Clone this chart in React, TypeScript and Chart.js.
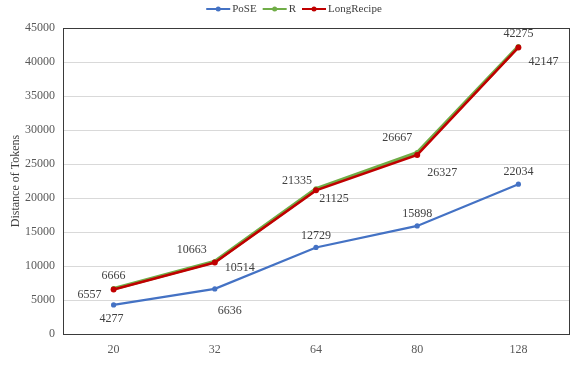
import React, { useEffect, useRef } from "react";
import { Chart, registerables } from "chart.js";

Chart.register(...registerables);

const categories = ["20", "32", "64", "80", "128"];
const poseValues = [4277, 6636, 12729, 15898, 22034];
const rValues = [6666, 10663, 21335, 26667, 42275];
const longRecipeValues = [6557, 10514, 21125, 26327, 42147];
const seriesNames = ["PoSE", "R", "LongRecipe"];
const seriesColors = ["#4472C4", "#70AD47", "#C00000"];

// label offsets (dx, dy) relative to each point, per dataset
const labelOffsets: number[][][] = [
  [[-2, 14], [15, 22], [0, -12], [0, -12], [0, -12]],
  [[0, -13], [-23, -12], [-19, -8], [-20, -15], [0, -13]],
  [[-24, 5], [25, 5], [18, 8], [25, 18], [25, 14]],
];

const SERIF = "'Liberation Serif', 'DejaVu Serif', serif";

const labelPlugin = {
  id: "pointLabels",
  afterDatasetsDraw(chart: any) {
    const ctx = chart.ctx;
    ctx.save();
    ctx.font = `12px ${SERIF}`;
    ctx.fillStyle = "#404040";
    ctx.textAlign = "center";
    ctx.textBaseline = "middle";
    chart.data.datasets.forEach((ds: any, di: number) => {
      const meta = chart.getDatasetMeta(di);
      meta.data.forEach((pt: any, i: number) => {
        const [dx, dy] = labelOffsets[di][i];
        ctx.fillText(String(ds.data[i]), pt.x + dx, pt.y + dy);
      });
    });
    ctx.restore();
  },
};

const frameLegendPlugin = {
  id: "frameLegend",
  afterDraw(chart: any) {
    const ctx = chart.ctx;
    const a = chart.chartArea;
    ctx.save();
    ctx.strokeStyle = "#3a3a3a";
    ctx.lineWidth = 1;
    ctx.strokeRect(Math.round(a.left) + 0.5, Math.round(a.top) + 0.5, Math.round(a.right - a.left), Math.round(a.bottom - a.top));
    // legend
    ctx.font = `11px ${SERIF}`;
    ctx.textBaseline = "middle";
    ctx.textAlign = "left";
    const lineW = 24;
    const gapText = 2;
    const gapItem = 6;
    const widths = seriesNames.map((n) => lineW + gapText + ctx.measureText(n).width);
    const total = widths.reduce((s, w) => s + w, 0) + gapItem * (seriesNames.length - 1);
    let x = 294 - total / 2;
    const y = 9;
    seriesNames.forEach((n, i) => {
      ctx.strokeStyle = seriesColors[i];
      ctx.fillStyle = seriesColors[i];
      ctx.lineWidth = 2;
      ctx.beginPath();
      ctx.moveTo(x, y);
      ctx.lineTo(x + lineW, y);
      ctx.stroke();
      ctx.beginPath();
      ctx.arc(x + lineW / 2, y, 2.5, 0, Math.PI * 2);
      ctx.fill();
      ctx.fillStyle = "#404040";
      ctx.fillText(n, x + lineW + gapText, y + 0.5);
      x += widths[i] + gapItem;
    });
    ctx.restore();
  },
};

export default function App() {
  const ref = useRef<HTMLCanvasElement | null>(null);
  useEffect(() => {
    document.body.style.margin = "0";
    const canvas = ref.current;
    if (!canvas) return;
    const chart = new Chart(canvas, {
      type: "line",
      data: {
        labels: categories,
        datasets: [
          {
            label: seriesNames[0],
            data: poseValues,
            borderColor: seriesColors[0],
            backgroundColor: seriesColors[0],
            borderWidth: 2.2,
            pointRadius: 2.6,
            pointBorderWidth: 0,
            pointHoverRadius: 2.6,
            order: 2,
          },
          {
            label: seriesNames[1],
            data: rValues,
            borderColor: seriesColors[1],
            backgroundColor: seriesColors[1],
            borderWidth: 3.6,
            pointRadius: 2.6,
            pointBorderWidth: 0,
            order: 1,
          },
          {
            label: seriesNames[2],
            data: longRecipeValues,
            borderColor: seriesColors[2],
            backgroundColor: seriesColors[2],
            borderWidth: 2.6,
            pointRadius: 3,
            pointBorderWidth: 0,
            order: 0,
          },
        ],
      },
      options: {
        animation: false,
        responsive: false,
        maintainAspectRatio: false,
        layout: { padding: { top: 28, right: 2, bottom: 0, left: 0 } },
        plugins: {
          legend: { display: false },
          tooltip: { enabled: false },
        },
        scales: {
          x: {
            offset: true,
            grid: { display: false, drawTicks: false },
            border: { display: false },
            ticks: { color: "#595959", font: { family: SERIF, size: 12 }, padding: 9 },
            afterFit: (s: any) => { s.height = 41; },
          },
          y: {
            min: 0,
            max: 45000,
            grid: { color: "#d9d9d9", drawTicks: false },
            border: { display: false },
            ticks: {
              stepSize: 5000,
              color: "#595959",
              font: { family: SERIF, size: 12 },
              padding: 8,
              callback: (v: any) => String(v),
            },
            title: { display: true, text: "Distance of Tokens", color: "#404040", font: { family: SERIF, size: 12 }, padding: { top: 9, bottom: 0 } },
            afterFit: (s: any) => { s.width = 63; },
          },
        },
      },
      plugins: [labelPlugin, frameLegendPlugin],
    });
    return () => chart.destroy();
  }, []);
  return (
    <div style={{ width: 573, height: 375 }}>
      <canvas ref={ref} width={573} height={375} style={{ display: "block" }} />
    </div>
  );
}
